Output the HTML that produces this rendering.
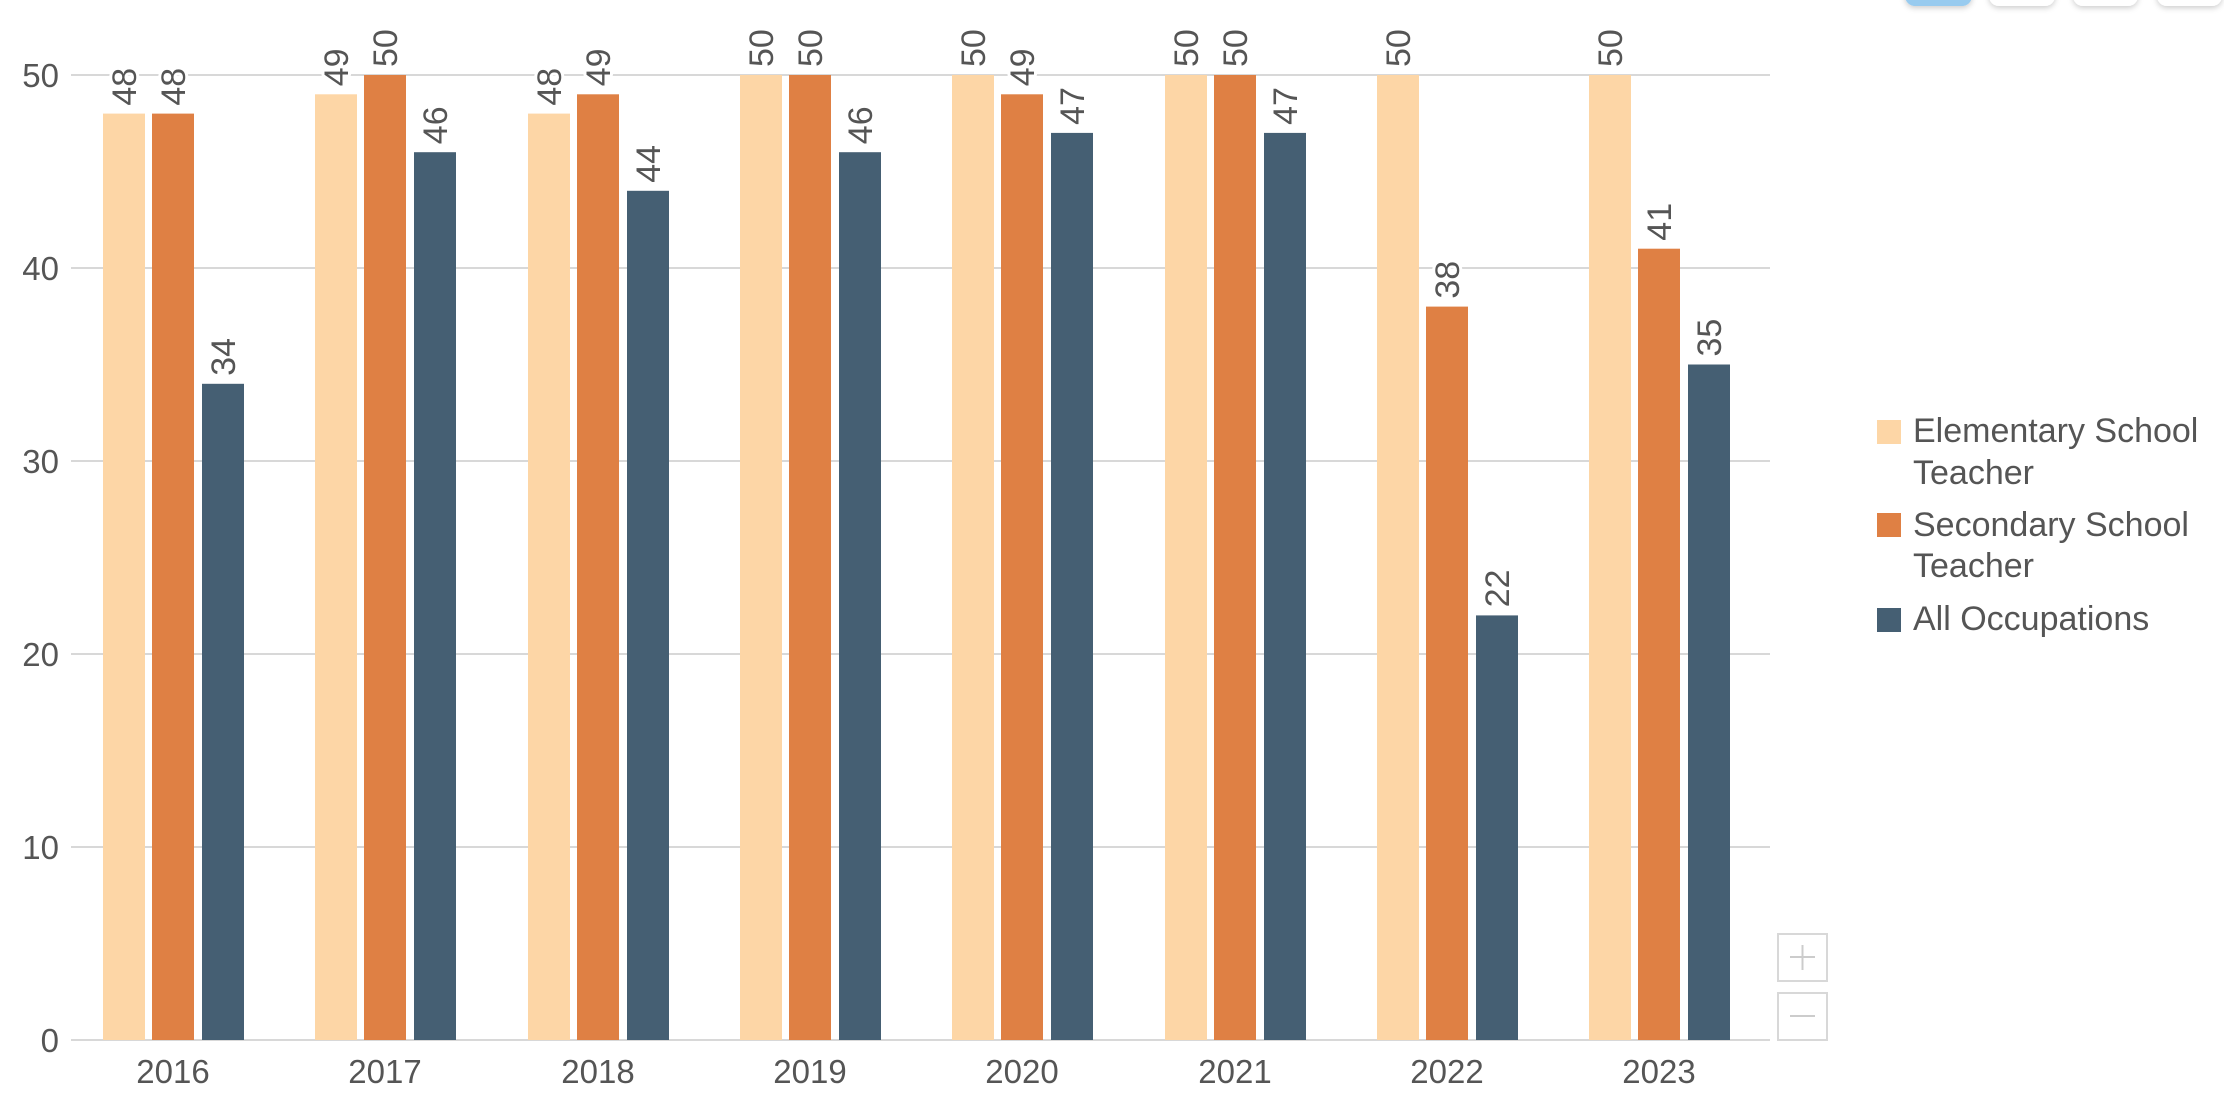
<!DOCTYPE html>
<html><head><meta charset="utf-8"><style>
html,body{margin:0;padding:0;background:#fff;}
svg{display:block;font-family:"Liberation Sans",sans-serif;}
.v{font-size:34px;fill:#555;stroke:#fff;stroke-width:6px;paint-order:stroke;stroke-linejoin:round;}
.a{fill:#fdd6a6}.b{fill:#df8044}.c{fill:#455f73}
</style></head><body>
<svg width="2224" height="1103" viewBox="0 0 2224 1103" xmlns="http://www.w3.org/2000/svg">
<defs><filter id="sh" x="-20%" y="-50%" width="140%" height="200%"><feDropShadow dx="0" dy="2" stdDeviation="3" flood-color="#000" flood-opacity="0.2"/></filter></defs>
<g filter="url(#sh)">
<rect x="1905" y="-20" width="67" height="26" rx="10" fill="#98cbef"/>
<rect x="1989" y="-20" width="66" height="26" rx="10" fill="#fff"/>
<rect x="2073" y="-20" width="65" height="26" rx="10" fill="#fff"/>
<rect x="2157" y="-20" width="65" height="26" rx="10" fill="#fff"/>
</g>
<g stroke="#d8d8d8" stroke-width="2">
<line x1="71" x2="1770" y1="75" y2="75"/>
<line x1="71" x2="1770" y1="268" y2="268"/>
<line x1="71" x2="1770" y1="461" y2="461"/>
<line x1="71" x2="1770" y1="654" y2="654"/>
<line x1="71" x2="1770" y1="847" y2="847"/>
<line x1="71" x2="1770" y1="1040" y2="1040"/>
</g>
<g fill="#555" font-size="33" text-anchor="end">
<text x="59" y="87">50</text><text x="59" y="280">40</text><text x="59" y="473">30</text>
<text x="59" y="666">20</text><text x="59" y="859">10</text><text x="59" y="1052">0</text>
</g>

<g transform="translate(173,0)">
<rect class="a" x="-70" y="113.6" width="42" height="926.4"/><rect class="b" x="-21" y="113.6" width="42" height="926.4"/><rect class="c" x="29" y="383.8" width="42" height="656.2"/>
<text class="v" transform="translate(-37,105.6) rotate(-90)">48</text><text class="v" transform="translate(12,105.6) rotate(-90)">48</text><text class="v" transform="translate(62,375.8) rotate(-90)">34</text>
</g>
<g transform="translate(385,0)">
<rect class="a" x="-70" y="94.3" width="42" height="945.7"/><rect class="b" x="-21" y="75" width="42" height="965"/><rect class="c" x="29" y="152.2" width="42" height="887.8"/>
<text class="v" transform="translate(-37,86.3) rotate(-90)">49</text><text class="v" transform="translate(12,67) rotate(-90)">50</text><text class="v" transform="translate(62,144.2) rotate(-90)">46</text>
</g>
<g transform="translate(598,0)">
<rect class="a" x="-70" y="113.6" width="42" height="926.4"/><rect class="b" x="-21" y="94.3" width="42" height="945.7"/><rect class="c" x="29" y="190.8" width="42" height="849.2"/>
<text class="v" transform="translate(-37,105.6) rotate(-90)">48</text><text class="v" transform="translate(12,86.3) rotate(-90)">49</text><text class="v" transform="translate(62,182.8) rotate(-90)">44</text>
</g>
<g transform="translate(810,0)">
<rect class="a" x="-70" y="75" width="42" height="965"/><rect class="b" x="-21" y="75" width="42" height="965"/><rect class="c" x="29" y="152.2" width="42" height="887.8"/>
<text class="v" transform="translate(-37,67) rotate(-90)">50</text><text class="v" transform="translate(12,67) rotate(-90)">50</text><text class="v" transform="translate(62,144.2) rotate(-90)">46</text>
</g>
<g transform="translate(1022,0)">
<rect class="a" x="-70" y="75" width="42" height="965"/><rect class="b" x="-21" y="94.3" width="42" height="945.7"/><rect class="c" x="29" y="132.9" width="42" height="907.1"/>
<text class="v" transform="translate(-37,67) rotate(-90)">50</text><text class="v" transform="translate(12,86.3) rotate(-90)">49</text><text class="v" transform="translate(62,124.9) rotate(-90)">47</text>
</g>
<g transform="translate(1235,0)">
<rect class="a" x="-70" y="75" width="42" height="965"/><rect class="b" x="-21" y="75" width="42" height="965"/><rect class="c" x="29" y="132.9" width="42" height="907.1"/>
<text class="v" transform="translate(-37,67) rotate(-90)">50</text><text class="v" transform="translate(12,67) rotate(-90)">50</text><text class="v" transform="translate(62,124.9) rotate(-90)">47</text>
</g>
<g transform="translate(1447,0)">
<rect class="a" x="-70" y="75" width="42" height="965"/><rect class="b" x="-21" y="306.6" width="42" height="733.4"/><rect class="c" x="29" y="615.4" width="42" height="424.6"/>
<text class="v" transform="translate(-37,67) rotate(-90)">50</text><text class="v" transform="translate(12,298.6) rotate(-90)">38</text><text class="v" transform="translate(62,607.4) rotate(-90)">22</text>
</g>
<g transform="translate(1659,0)">
<rect class="a" x="-70" y="75" width="42" height="965"/><rect class="b" x="-21" y="248.7" width="42" height="791.3"/><rect class="c" x="29" y="364.5" width="42" height="675.5"/>
<text class="v" transform="translate(-37,67) rotate(-90)">50</text><text class="v" transform="translate(12,240.7) rotate(-90)">41</text><text class="v" transform="translate(62,356.5) rotate(-90)">35</text>
</g>

<g fill="#555" font-size="33" text-anchor="middle">
<text x="173" y="1083">2016</text><text x="385" y="1083">2017</text><text x="598" y="1083">2018</text><text x="810" y="1083">2019</text>
<text x="1022" y="1083">2020</text><text x="1235" y="1083">2021</text><text x="1447" y="1083">2022</text><text x="1659" y="1083">2023</text>
</g>

<rect x="1877" y="420" width="24" height="24" fill="#fdd6a6"/>
<rect x="1877" y="513" width="24" height="24" fill="#df8044"/>
<rect x="1877" y="608" width="24" height="24" fill="#455f73"/>
<g fill="#555" font-size="34">
<text x="1913" y="442">Elementary School</text>
<text x="1913" y="484">Teacher</text>
<text x="1913" y="536">Secondary School</text>
<text x="1913" y="577">Teacher</text>
<text x="1913" y="630">All Occupations</text>
</g>

<rect x="1778" y="934" width="49" height="47" fill="#fff" stroke="#d8d8d8" stroke-width="2"/>
<rect x="1778" y="993" width="49" height="47" fill="#fff" stroke="#d8d8d8" stroke-width="2"/>
<g stroke="#ccc" stroke-width="2"><line x1="1790" x2="1815" y1="957" y2="957"/><line x1="1802.5" x2="1802.5" y1="945" y2="970"/><line x1="1790" x2="1815" y1="1016" y2="1016"/></g>
</svg>
</body></html>
